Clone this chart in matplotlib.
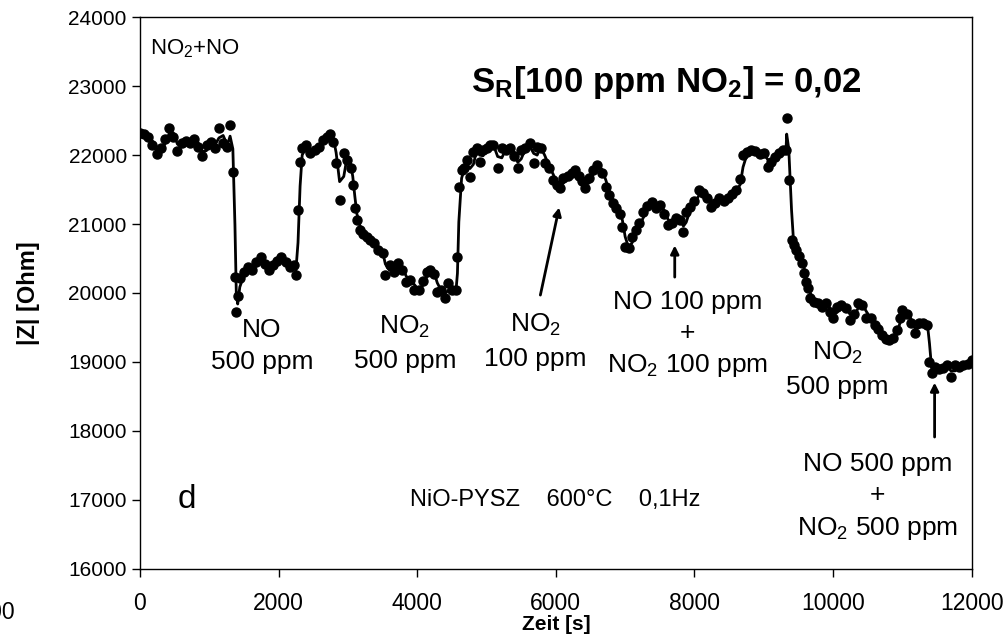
import numpy as np
import matplotlib
matplotlib.use("Agg")
import matplotlib.pyplot as plt

plt.rcParams['font.family'] = ['Liberation Sans', 'DejaVu Sans']
plt.rcParams['mathtext.default'] = 'regular'

# Zeit [s] und |Z| [Ohm]
zeit = [0, 60, 120, 180, 240, 300, 360, 420, 480, 540, 600, 660, 720, 780, 840, 900, 960, 1020, 1080, 1140,
        1200, 1260, 1300, 1340, 1370, 1390, 1410, 1440, 1500, 1560, 1620, 1680, 1740, 1800, 1860, 1920, 1980,
        2040, 2100, 2160, 2220, 2250, 2280, 2310, 2340, 2400, 2460, 2520, 2580, 2640, 2700, 2740, 2790, 2830,
        2880, 2940, 2990, 3040, 3070, 3100, 3130, 3170, 3220, 3270, 3320, 3380, 3440, 3500, 3540, 3600, 3660,
        3720, 3780, 3840, 3900, 3960, 4020, 4080, 4140, 4190, 4240, 4290, 4350, 4400, 4450, 4500, 4560, 4580,
        4600, 4640, 4680, 4720, 4760, 4810, 4860, 4900, 4950, 5000, 5050, 5100, 5160, 5220, 5280, 5340, 5400,
        5450, 5500, 5560, 5620, 5680, 5730, 5780, 5840, 5900, 5960, 6010, 6060, 6110, 6170, 6230, 6280, 6330,
        6380, 6420, 6480, 6540, 6600, 6660, 6720, 6770, 6820, 6870, 6920, 6960, 7000, 7050, 7100, 7150, 7200,
        7260, 7320, 7380, 7440, 7500, 7560, 7620, 7680, 7740, 7790, 7840, 7880, 7940, 8000, 8060, 8120, 8180,
        8240, 8300, 8360, 8420, 8480, 8540, 8600, 8660, 8700, 8760, 8820, 8880, 8940, 9000, 9060, 9110, 9160,
        9220, 9270, 9320, 9330, 9360, 9400, 9430, 9470, 9510, 9550, 9580, 9610, 9640, 9670, 9720, 9780, 9840,
        9900, 9950, 10000, 10060, 10120, 10180, 10240, 10300, 10360, 10420, 10480, 10540, 10600, 10650, 10700,
        10760, 10810, 10860, 10920, 10960, 11000, 11060, 11120, 11180, 11240, 11300, 11360, 11390, 11420, 11470,
        11530, 11590, 11650, 11700, 11760, 11820, 11880, 11940, 12000]
z = [22320, 22310, 22260, 22150, 22010, 22100, 22230, 22390, 22260, 22060, 22170, 22200, 22180, 22240, 22120,
     21980, 22150, 22190, 22100, 22400, 22170, 22120, 22430, 21750, 20230, 19730, 19950, 20220, 20300, 20380,
     20330, 20450, 20520, 20420, 20340, 20400, 20460, 20520, 20450, 20380, 20410, 20260, 21200, 21900, 22100,
     22150, 22030, 22080, 22120, 22220, 22260, 22300, 22190, 21880, 21350, 22030, 21930, 21810, 21570, 21230,
     21060, 20910, 20860, 20810, 20770, 20720, 20620, 20580, 20260, 20400, 20300, 20440, 20330, 20160, 20190,
     20050, 20040, 20180, 20300, 20330, 20280, 20010, 20050, 19930, 20150, 20040, 20050, 20520, 21540, 21790,
     21810, 21930, 21680, 22050, 22100, 21900, 22080, 22100, 22140, 22150, 21810, 22110, 22070, 22110, 21980,
     21810, 22080, 22100, 22170, 21880, 22120, 22110, 21880, 21810, 21640, 21570, 21520, 21670, 21700, 21740,
     21780, 21700, 21620, 21520, 21670, 21780, 21860, 21740, 21540, 21420, 21300, 21230, 21150, 20960, 20670,
     20650, 20810, 20920, 21010, 21170, 21260, 21320, 21230, 21270, 21140, 20990, 21020, 21090, 21060, 20880,
     21170, 21250, 21330, 21490, 21450, 21380, 21250, 21300, 21380, 21340, 21380, 21440, 21500, 21650, 22000,
     22040, 22080, 22060, 22020, 22030, 21830, 21900, 21970, 22030, 22070, 22070, 22540, 21640, 20770, 20700,
     20620, 20530, 20440, 20290, 20160, 20070, 19930, 19870, 19860, 19790, 19860, 19720, 19640, 19800, 19830,
     19780, 19610, 19700, 19860, 19820, 19640, 19640, 19540, 19480, 19390, 19330, 19320, 19350, 19460, 19640,
     19750, 19700, 19560, 19420, 19570, 19560, 19540, 19000, 18840, 18930, 18900, 18910, 18960, 18780, 18960,
     18920, 18960, 18970, 19030]

zeit = np.array(zeit, dtype=float)
z = np.array(z, dtype=float)
# gleitender Durchschnitt (2 Punkte) als Linie
z_ma = (z[1:] + z[:-1]) / 2

fig = plt.figure(figsize=(10.07, 6.39), dpi=100)
ax = fig.add_axes([0.139, 0.110, 0.826, 0.863])

ax.plot(zeit, z, 'o', color='black', markersize=6.5, zorder=3)
ax.plot(zeit[1:], z_ma, '-', color='black', linewidth=2, zorder=2)

ax.set_xlim(0, 12000)
ax.set_ylim(16000, 24000)
ax.set_xticks(np.arange(0, 12001, 2000))
ax.set_yticks(np.arange(16000, 24001, 1000))
ax.tick_params(direction='out', length=6, width=1, colors='black')
ax.tick_params(axis='y', labelsize=15)
ax.tick_params(axis='x', labelsize=16.5, pad=11)
for s in ax.spines.values():
    s.set_linewidth(1)

ax.set_xlabel('Zeit [s]', fontsize=15, fontweight='bold', labelpad=0)
ax.set_ylabel('|Z| [Ohm]', fontsize=17, fontweight='bold')
ax.yaxis.set_label_coords(-0.12, 0.5)

fs = 19
ls = 1.45
ax.text(144, 23550, 'NO$_2$+NO', fontsize=16, ha='left', va='center')
ax.text(7600, 23060, 'S$_R$[100 ppm NO$_2$] = 0,02', fontsize=25, fontweight='bold', ha='center', va='center')
ax.text(1760, 19230, 'NO\n500 ppm', fontsize=fs, ha='center', va='center', linespacing=ls)
ax.text(3820, 19270, 'NO$_2$\n500 ppm', fontsize=fs, ha='center', va='center', linespacing=ls)
ax.text(5700, 19300, 'NO$_2$\n100 ppm', fontsize=fs, ha='center', va='center', linespacing=ls)
ax.annotate('', xy=(6056, 21280), xytext=(5768, 19930),
            arrowprops=dict(arrowstyle='-|>', color='black', lw=2, mutation_scale=12))
ax.text(7900, 19400, 'NO 100 ppm\n+\nNO$_2$ 100 ppm', fontsize=fs, ha='center', va='center', linespacing=1.35)
ax.annotate('', xy=(7715, 20730), xytext=(7715, 20190),
            arrowprops=dict(arrowstyle='-|>', color='black', lw=2, mutation_scale=12))
ax.text(10065, 18890, 'NO$_2$\n500 ppm', fontsize=fs, ha='center', va='center', linespacing=ls)
ax.annotate('', xy=(11464, 18740), xytext=(11464, 17870),
            arrowprops=dict(arrowstyle='-|>', color='black', lw=2, mutation_scale=12))
ax.text(10642, 17040, 'NO 500 ppm\n+\nNO$_2$ 500 ppm', fontsize=fs, ha='center', va='center', linespacing=1.4)
ax.text(680, 17000, 'd', fontsize=24, ha='center', va='center')
ax.text(5984, 17000, 'NiO-PYSZ    600°C    0,1Hz', fontsize=17, ha='center', va='center')

# Rest einer abgeschnittenen Achsenbeschriftung am linken Rand
fig.text(0.015, 0.042, '12000', fontsize=16.5, ha='right', va='center')

fig.savefig('out.png', dpi=100)
